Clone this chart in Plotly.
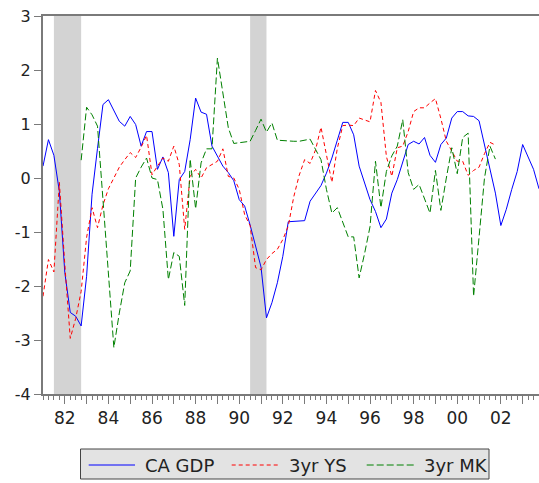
import plotly.graph_objects as go

# ---- data (quarterly, 1981Q1 .. 2003Q4) ----
first_year = 1981
n_quarters = 92
quarter_x = [first_year + i / 4 for i in range(n_quarters)]

ca_gdp = [0.22, 0.71, 0.42, -0.25, -1.75, -2.49, -2.56, -2.74, -1.82, -0.30,
          0.55, 1.36, 1.45, 1.25, 1.05, 0.96, 1.14, 0.99, 0.59, 0.86,
          0.86, 0.16, 0.39, 0.10, -1.08, -0.03, 0.12, 0.71, 1.48, 1.22,
          1.18, 0.59, 0.40, 0.22, 0.10, -0.05, -0.40, -0.52, -0.87, -1.24,
          -1.65, -2.59, -2.31, -1.94, -1.45, -0.81, -0.80, -0.80, -0.79, -0.43,
          -0.28, -0.14, 0.09, 0.37, 0.70, 1.03, 1.03, 0.80, 0.22, -0.10,
          -0.40, -0.62, -0.92, -0.76, -0.28, -0.03, 0.28, 0.62, 0.68, 0.63,
          0.75, 0.42, 0.29, 0.62, 0.74, 1.11, 1.23, 1.23, 1.15, 1.14,
          1.06, 0.61, 0.17, -0.28, -0.88, -0.58, -0.21, 0.12, 0.62, 0.40,
          0.16, -0.20]

yield_spread_3yr = [-2.19, -1.51, -1.74, -0.08, -1.60, -2.97, -2.60, -2.10, -1.10, -0.55,
                    -0.92, -0.50, -0.20, 0.00, 0.20, 0.34, 0.47, 0.38, 0.57, 0.79,
                    0.06, 0.22, 0.37, 0.31, 0.59, 0.25, -0.95, 0.03, 0.16, 0.00,
                    0.19, 0.25, 0.31, 0.54, 0.03, 0.00, -0.21, -0.68, -0.88, -1.66,
                    -1.70, -1.51, -1.40, -1.32, -1.14, -0.89, -0.35, 0.05, 0.34, 0.27,
                    0.52, 0.94, 0.46, -0.08, 0.55, 0.97, 0.98, 0.97, 1.11, 1.08,
                    1.04, 1.62, 1.40, 0.40, 0.03, 0.56, 0.59, 0.86, 1.23, 1.30,
                    1.30, 1.39, 1.47, 1.10, 0.68, 0.50, 0.31, 0.31, 0.05, 0.14,
                    0.20, 0.45, 0.66, 0.61, None, None, None, None, None, None,
                    None, None]

market_3yr = [None, None, None, None, None, None, None, 0.33, 1.31, 1.17,
              0.96, -0.40, -1.80, -3.14, -2.50, -1.94, -1.72, 0.00, 0.20, 0.37,
              0.00, -0.03, -0.58, -1.88, -1.38, -1.45, -2.36, 0.35, -0.57, 0.28,
              0.54, 0.54, 2.22, 1.56, 0.93, 0.64, 0.65, 0.66, 0.68, 0.88,
              1.09, 0.85, 1.02, 0.70, 0.69, 0.69, 0.68, 0.68, 0.70, 0.72,
              0.53, 0.34, -0.21, -0.65, -0.55, -0.83, -1.09, -1.09, -1.85, -1.40,
              -0.90, 0.31, -0.55, 0.12, 0.41, 0.59, 1.08, 0.10, -0.21, -0.12,
              -0.40, -0.65, 0.14, -0.60, 0.00, 0.56, 0.08, 0.75, 0.83, -2.19,
              -1.10, 0.00, 0.59, 0.35, None, None, None, None, None, None,
              None, None]

recession_start = [1981.5, 1990.5]
recession_end = [1982.75, 1991.25]

year_ticks = list(range(1982, 2004))
year_labels = ["82", "", "84", "", "86", "", "88", "", "90", "", "92", "",
               "94", "", "96", "", "98", "", "00", "", "02", ""]
y_ticks = [-4, -3, -2, -1, 0, 1, 2, 3]
y_labels = ["-4", "-3", "-2", "-1", "0", "1", "2", "3"]

series_names = ["CA GDP", "3yr YS", "3yr MK"]
series_colors = ["#0000FF", "#FF0000", "#008000"]
series_dashes = ["solid", "4px,3px", "7px,3px"]
series_values = [ca_gdp, yield_spread_3yr, market_3yr]

TICK_FONT = "DejaVu Sans, sans-serif"
LEG_FONT = "DejaVu Sans, sans-serif"
AXIS_COL = "#7a7a7a"

fig_w, fig_h = 539, 483
m_l, m_t, m_r = 43, 16, 0
plot_bottom = 394
m_b = fig_h - plot_bottom
plot_w = fig_w - m_l - m_r
plot_h = plot_bottom - m_t

fig = go.Figure()
for name, vals, col, dash in zip(series_names, series_values, series_colors, series_dashes):
    fig.add_trace(go.Scatter(x=quarter_x, y=vals, mode="lines", name=name,
                             line=dict(color=col, width=1, dash=dash),
                             connectgaps=False, showlegend=False))

shapes = []
for s, e in zip(recession_start, recession_end):
    shapes.append(dict(type="rect", xref="x", yref="y", x0=s, x1=e, y0=-4, y1=3,
                       fillcolor="#D3D3D3", line=dict(width=0), layer="below"))

# legend box drawn in paper coordinates (page pixels -> paper)
def px2x(px):
    return (px - m_l) / plot_w
def py2y(py):
    return (plot_bottom - py) / plot_h

shapes.append(dict(type="rect", xref="paper", yref="paper",
                   x0=px2x(80.5), x1=px2x(489), y0=py2y(479), y1=py2y(449),
                   fillcolor="#E3E3E3", line=dict(color="#444444", width=1), layer="above"))
sample_x = [(88.7, 135), (231.7, 278.3), (366.7, 415)]
text_x = [143, 286.5, 421.5]
annotations = []
for (sx0, sx1), tx, name, col, dash in zip(sample_x, text_x, series_names, series_colors, series_dashes):
    shapes.append(dict(type="line", xref="paper", yref="paper",
                       x0=px2x(sx0), x1=px2x(sx1), y0=py2y(465), y1=py2y(465),
                       line=dict(color=col, width=1, dash=dash), layer="above"))
    annotations.append(dict(text=name, xref="paper", yref="paper", x=px2x(tx), y=py2y(465),
                            xanchor="left", yanchor="middle", showarrow=False,
                            font=dict(family=LEG_FONT, size=18, color="#222222")))

fig.update_layout(
    width=fig_w, height=fig_h,
    margin=dict(l=m_l, r=m_r, t=m_t, b=m_b, pad=0),
    paper_bgcolor="white", plot_bgcolor="white",
    shapes=shapes, annotations=annotations,
    showlegend=False,
    xaxis=dict(range=[1981, 2003.75], tickmode="array", tickvals=year_ticks, ticktext=year_labels,
               ticks="outside", ticklen=8, tickwidth=1, tickcolor=AXIS_COL,
               minor=dict(ticks="outside", ticklen=4, tickwidth=1, tickcolor=AXIS_COL,
                          tick0=1981, dtick=0.25, showgrid=False),
               showline=True, linecolor=AXIS_COL, linewidth=1.5, mirror=True,
               showgrid=False, zeroline=False, automargin=False, ticklabeloverflow="allow",
               tickfont=dict(family=TICK_FONT, size=17, color="#222222")),
    yaxis=dict(range=[-4, 3], tickmode="array", tickvals=y_ticks, ticktext=y_labels,
               ticks="outside", ticklen=7, tickwidth=1, tickcolor=AXIS_COL,
               showline=True, linecolor=AXIS_COL, linewidth=2,
               showgrid=False, zeroline=False, automargin=False, ticklabeloverflow="allow",
               tickfont=dict(family=TICK_FONT, size=16, color="#222222")),
)

# remove the default 8px page margin and scrollbars so the figure fills the window
page_fix = ("document.documentElement.style.overflow='hidden';"
            "document.body.style.overflow='hidden';"
            "document.body.style.margin='0';")

fig.write_html("out.html", post_script=page_fix, config={"displayModeBar": False})
